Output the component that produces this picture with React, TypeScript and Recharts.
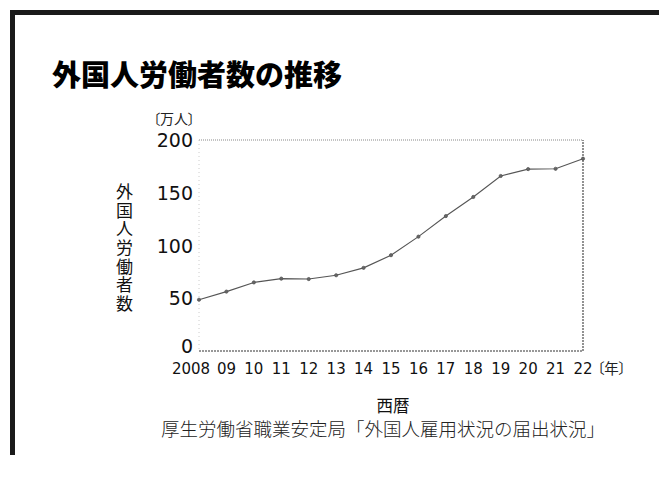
import React from 'react';
import { LineChart, Line, XAxis, YAxis, ReferenceLine } from 'recharts';

const years = ['2008', '09', '10', '11', '12', '13', '14', '15', '16', '17', '18', '19', '20', '21', '22'];
const workers = [48.6, 56.3, 65.0, 68.6, 68.2, 71.8, 78.8, 90.8, 108.4, 127.9, 146.0, 165.9, 172.4, 172.7, 182.3];
const yTicks = [0, 50, 100, 150, 200];

const title = '外国人労働者数の推移';
const yUnit = '〔万人〕';
const yLabel = '外国人労働者数';
const xUnit = '〔年〕';
const xLabel = '西暦';
const source = '厚生労働省職業安定局「外国人雇用状況の届出状況」';

const data = years.map((y, i) => ({ year: y, value: workers[i] }));

const jp = '"Noto Sans CJK JP", sans-serif';
const num = '"DejaVu Sans", Verdana, sans-serif';

const XTick = (props: any) => {
  const { x, y, payload, index } = props;
  return (
    <text x={x + (index === 0 ? -8 : 0)} y={y + 23} textAnchor="middle" fontSize={15} fontFamily={num} fill="#111">
      {payload.value}
    </text>
  );
};

const YTick = (props: any) => {
  const { x, y, payload } = props;
  return (
    <text x={x} y={y + (payload.value === 0 ? 2 : 7)} textAnchor="end" fontSize={19} fontFamily={num} fill="#111">
      {payload.value}
    </text>
  );
};

export default function App() {
  return (
    <div style={{ position: 'absolute', left: 0, top: 0, width: 659, height: 477, background: '#fff', overflow: 'hidden' }}>
      <div style={{ position: 'absolute', left: 10, top: 10, width: 649, height: 5, background: '#1a1a1a' }} />
      <div style={{ position: 'absolute', left: 10, top: 10, width: 5, height: 445, background: '#1a1a1a' }} />
      <div style={{ position: 'absolute', left: 52, top: 55, fontFamily: jp, fontWeight: 900, fontSize: 29, lineHeight: '36px', color: '#000', whiteSpace: 'nowrap' }}>
        {title}
      </div>
      <div style={{ position: 'absolute', left: 153, top: 110, fontFamily: jp, fontSize: 14, lineHeight: '16px', color: '#222', fontFeatureSettings: '"palt"', whiteSpace: 'nowrap' }}>
        {yUnit}
      </div>
      <div style={{ position: 'absolute', left: 115, top: 183, fontFamily: jp, fontSize: 17, lineHeight: '19px', letterSpacing: '1.7px', color: '#111', writingMode: 'vertical-rl', whiteSpace: 'nowrap' }}>
        {yLabel}
      </div>
      <div style={{ position: 'absolute', left: 597, top: 360, fontFamily: jp, fontSize: 14.5, lineHeight: '16px', color: '#222', fontFeatureSettings: '"palt"', whiteSpace: 'nowrap' }}>
        {xUnit}
      </div>
      <div style={{ position: 'absolute', left: 343, width: 100, top: 395, textAlign: 'center', fontFamily: jp, fontSize: 16.5, lineHeight: '20px', color: '#111' }}>
        {xLabel}
      </div>
      <div style={{ position: 'absolute', left: 133, width: 500, top: 417, textAlign: 'center', fontFamily: jp, fontSize: 18.5, lineHeight: '22px', color: '#222', fontWeight: 300 }}>
        {source}
      </div>
      <div style={{ position: 'absolute', left: 0, top: 0 }}>
        <LineChart width={659} height={477} data={data} margin={{ top: 140, right: 76, bottom: 96, left: 139 }}>
          <XAxis
            dataKey="year"
            height={30}
            tickLine={false}
            tickSize={0}
            tickMargin={0}
            interval={0}
            tick={<XTick />}
            axisLine={{ stroke: '#777', strokeWidth: 1.6, strokeDasharray: '2 1' }}
          />
          <YAxis
            width={60}
            domain={[0, 200]}
            ticks={yTicks}
            tickLine={false}
            tickSize={0}
            tickMargin={6}
            tick={<YTick />}
            axisLine={{ stroke: '#ccc', strokeWidth: 1, strokeDasharray: '1 3' }}
          />
          <ReferenceLine y={200} stroke="#888" strokeWidth={1} strokeDasharray="1 1" ifOverflow="visible" />
          <ReferenceLine x="22" stroke="#777" strokeWidth={1.6} strokeDasharray="2 1" ifOverflow="visible" />
          <Line
            type="linear"
            dataKey="value"
            stroke="#555"
            strokeWidth={1.1}
            dot={{ r: 1.6, fill: '#666', stroke: '#555', strokeWidth: 0.8 }}
            isAnimationActive={false}
          />
        </LineChart>
      </div>
    </div>
  );
}
